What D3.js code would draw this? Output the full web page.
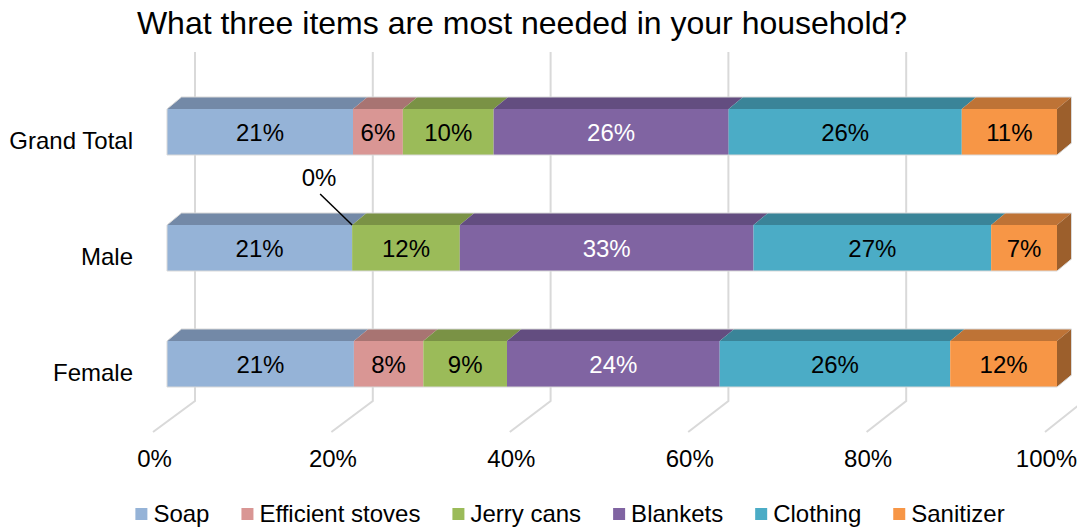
<!DOCTYPE html>
<html>
<head>
<meta charset="utf-8">
<script src="https://cdn.jsdelivr.net/npm/d3@7"></script>
<style>
  body { margin: 0; background: #fff; }
  svg { font-family: "Liberation Sans", Arial, sans-serif; }
</style>
</head>
<body>
<div id="chart"></div>
<script>
// chart data
const categories = ['Grand Total', 'Male', 'Female'];
const seriesNames = ['Soap', 'Efficient stoves', 'Jerry cans', 'Blankets', 'Clothing', 'Sanitizer'];
// share of answers per category, in %, same order as seriesNames
const grandTotal = [20.9, 5.6, 10.2, 26.4, 26.2, 10.7];
const male       = [20.8, 0.0, 12.1, 33.0, 26.7, 7.4];
const female     = [21.0, 7.8, 9.4, 23.9, 25.9, 12.0];
const tickValues = [0, 20, 40, 60, 80, 100];
const title = 'What three items are most needed in your household?';

// styles
const frontColors = ['#95B3D7', '#D99694', '#9BBB59', '#8064A2', '#4BACC6', '#F79646'];
const topColors   = ['#7389A7', '#A87472', '#7A9245', '#634D80', '#3A8498', '#BE7336'];
const sideColor   = '#9C5F2C';
const labelColors = ['#000', '#000', '#000', '#fff', '#000', '#000'];
const fontSize = 24;

const width = 1077, height = 531;
const rows = [grandTotal, male, female];

const svg = d3.select('#chart').append('svg')
    .attr('width', width)
    .attr('height', height);

// scales: front face of bars, back wall, front edge of floor
const x = d3.scaleLinear().domain([0, 100]).range([167, 1057]);
const xBack = d3.scaleLinear().domain([0, 100]).range([195, 1084]);
const xFloor = d3.scaleLinear().domain([0, 100]).range([153, 1045]);
const y = d3.scaleBand().domain(categories).range([109, 387]).paddingInner(70 / 116).paddingOuter(0);

const depthX = 14.5, depthY = 12;
const wallTop = 52, floorBack = 401, floorFront = 432;

// back wall grid lines and floor lines
const grid = svg.append('g').attr('class', 'grid')
    .attr('stroke', '#d9d9d9').attr('stroke-width', 2).attr('fill', 'none');
grid.selectAll('path')
    .data(tickValues)
    .join('path')
    .attr('d', d => `M${xBack(d)},${wallTop}V${floorBack}L${xFloor(d)},${floorFront}`);

// bars
const barGroups = svg.append('g').attr('class', 'bars')
    .selectAll('g.bar')
    .data(categories.map((c, i) => {
        let cum = 0;
        const segs = rows[i].map((v, j) => {
            const s = {cat: c, series: j, value: v, x0: cum, x1: cum + v};
            cum += v;
            return s;
        });
        return {cat: c, segs};
    }))
    .join('g')
    .classed('bar', true);

barGroups.each(function(b) {
    const g = d3.select(this);
    const top = y(b.cat), h = y.bandwidth();

    // top faces
    g.selectAll('path.top')
        .data(b.segs.filter(s => s.value > 0))
        .join('path')
        .classed('top', true)
        .attr('fill', s => topColors[s.series])
        .attr('d', s => {
            const a = x(s.x0), e = x(s.x1);
            return `M${a},${top}L${e},${top}L${e + depthX},${top - depthY}L${a + depthX},${top - depthY}Z`;
        });

    // front faces
    g.selectAll('rect.front')
        .data(b.segs.filter(s => s.value > 0))
        .join('rect')
        .classed('front', true)
        .attr('x', s => x(s.x0))
        .attr('y', top)
        .attr('width', s => x(s.x1) - x(s.x0))
        .attr('height', h)
        .attr('fill', s => frontColors[s.series]);

    // right side of the last segment
    const end = x(100);
    g.append('path')
        .attr('fill', sideColor)
        .attr('d', `M${end},${top}L${end + depthX},${top - depthY}L${end + depthX},${top + h - depthY}L${end},${top + h}Z`);

    // thin light outline around the whole bar
    g.append('path')
        .attr('fill', 'none')
        .attr('stroke', '#d9d9d9')
        .attr('stroke-width', 1)
        .attr('d', `M${x(0)},${top + h}L${x(0)},${top}L${x(0) + depthX},${top - depthY}L${end + depthX},${top - depthY}L${end + depthX},${top + h - depthY}L${end},${top + h}Z`);

    // value labels
    g.selectAll('text.val')
        .data(b.segs.filter(s => s.value > 0))
        .join('text')
        .classed('val', true)
        .attr('x', s => (x(s.x0) + x(s.x1)) / 2)
        .attr('y', top + h / 2 + 8.5)
        .attr('text-anchor', 'middle')
        .attr('font-size', fontSize)
        .attr('fill', s => labelColors[s.series])
        .text(s => Math.round(s.value) + '%');

    // zero-value labels get a leader line
    b.segs.filter(s => s.value === 0).forEach(s => {
        const px = x(s.x0);
        g.append('line')
            .attr('x1', px - 32).attr('y1', top - 31)
            .attr('x2', px).attr('y2', top)
            .attr('stroke', '#000').attr('stroke-width', 1.5);
        g.append('text')
            .attr('x', px - 33)
            .attr('y', top - 39)
            .attr('text-anchor', 'middle')
            .attr('font-size', fontSize)
            .text(Math.round(s.value) + '%');
    });
});

// category labels
svg.append('g').attr('class', 'cats')
    .selectAll('text')
    .data(categories)
    .join('text')
    .attr('x', 133)
    .attr('y', d => y(d) + 40)
    .attr('text-anchor', 'end')
    .attr('font-size', fontSize)
    .text(d => d);

// percentage axis along the front of the floor
const axis = svg.append('g')
    .attr('transform', `translate(0,${floorFront})`)
    .call(d3.axisBottom(xFloor).tickValues(tickValues).tickFormat(d => d + '%').tickSize(0).tickPadding(18));
axis.select('.domain').remove();
axis.selectAll('text')
    .attr('font-size', fontSize)
    .attr('font-family', '"Liberation Sans", Arial, sans-serif')
    .attr('fill', '#000')
    .attr('dx', 1);

// title
svg.append('text')
    .attr('x', 522)
    .attr('y', 34)
    .attr('text-anchor', 'middle')
    .attr('font-size', 32)
    .text(title);

// legend
const legend = svg.append('g').attr('class', 'legend');
const items = legend.selectAll('g')
    .data(seriesNames)
    .join('g');
items.append('rect')
    .attr('width', 12).attr('height', 12)
    .attr('y', 508)
    .attr('fill', (d, i) => frontColors[i]);
items.append('text')
    .attr('x', 18)
    .attr('y', 522)
    .attr('font-size', fontSize)
    .text(d => d);

let lx = 0;
const gap = 32;
const widths = [];
items.each(function() {
    widths.push(18 + d3.select(this).select('text').node().getComputedTextLength());
});
const total = d3.sum(widths) + gap * (widths.length - 1);
lx = 570 - total / 2;
items.attr('transform', (d, i) => {
    const t = `translate(${lx},0)`;
    lx += widths[i] + gap;
    return t;
});
</script>
</body>
</html>
